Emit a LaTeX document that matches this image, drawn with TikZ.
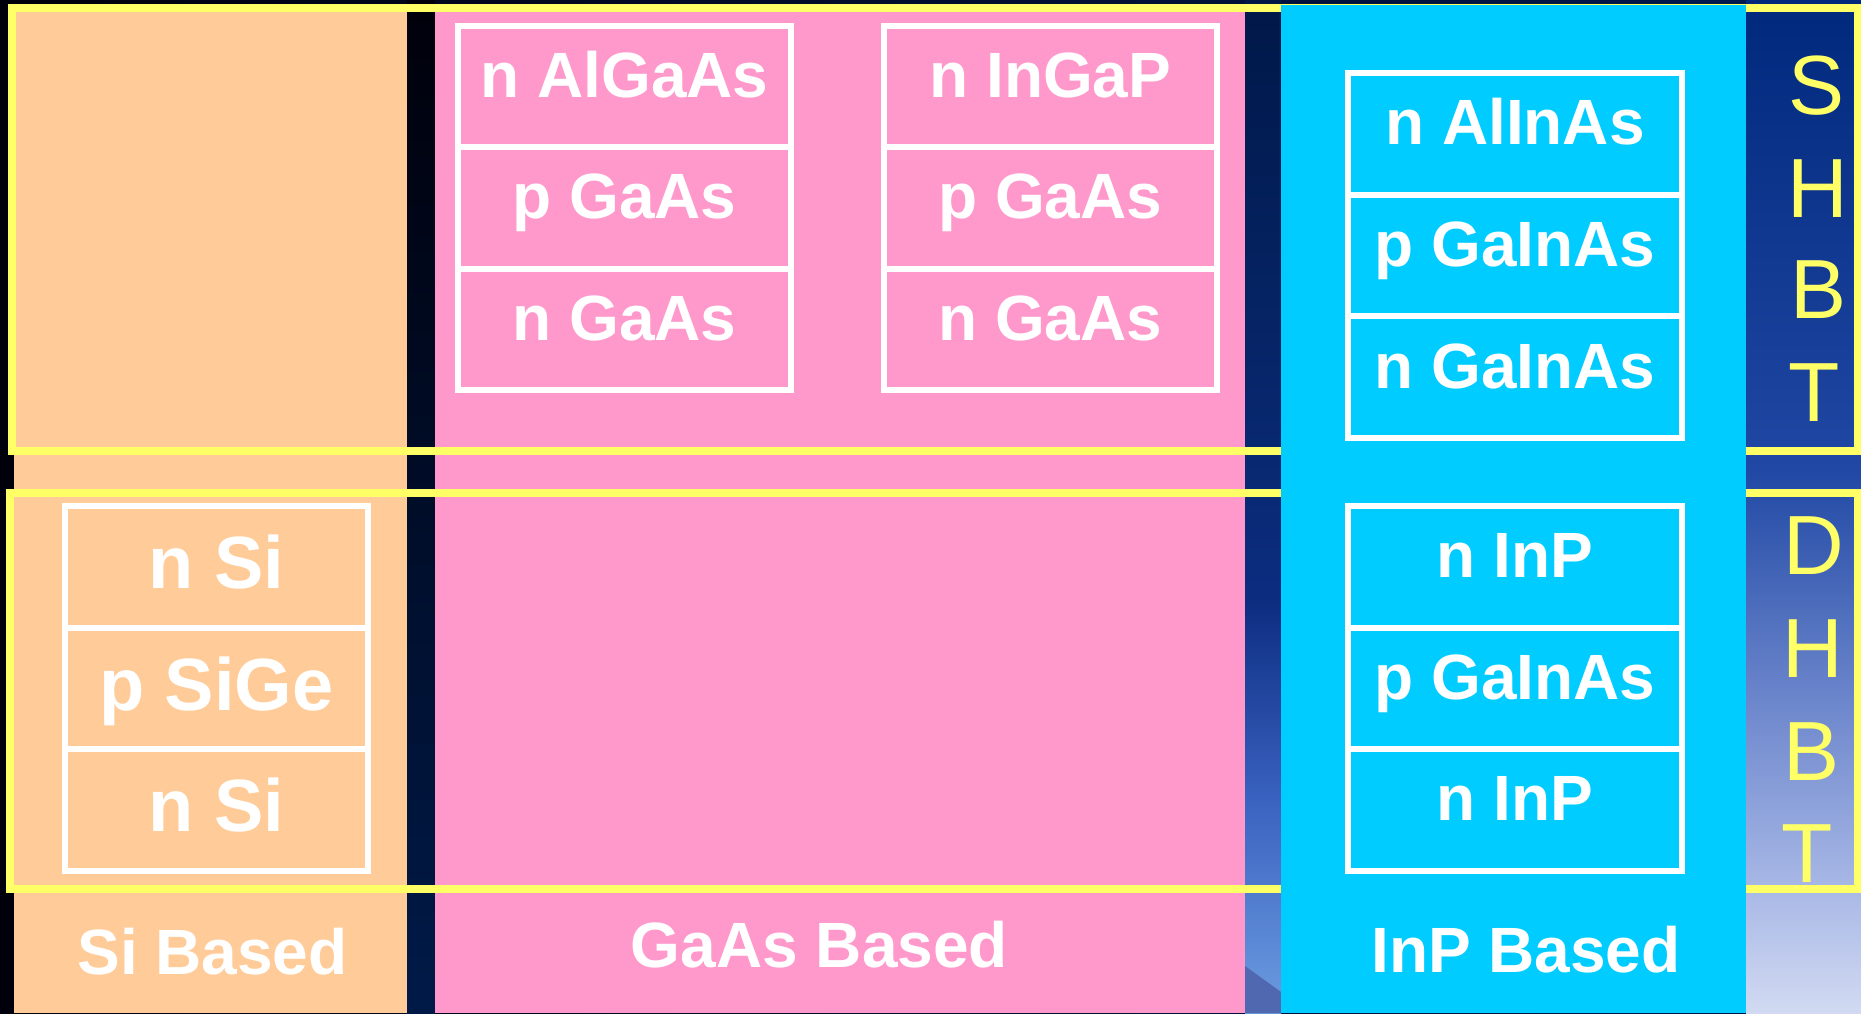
\documentclass[tikz,border=0pt]{standalone}
\usepackage{fontspec}
\setmainfont{Liberation Sans}
\definecolor{peachc}{HTML}{FFCC99}
\definecolor{pinkc}{HTML}{FF99CC}
\definecolor{cyanc}{HTML}{00CCFF}
\definecolor{yelc}{HTML}{FFFF66}
\definecolor{bgA}{HTML}{00000C}
\definecolor{bgB}{HTML}{001A50}
\definecolor{dkA}{HTML}{00000A}
\definecolor{dkB}{HTML}{001A48}
\definecolor{mA}{HTML}{001848}
\definecolor{mB}{HTML}{082870}
\definecolor{mC}{HTML}{0C2C80}
\definecolor{mD}{HTML}{3A62C0}
\definecolor{mE}{HTML}{6C9CE0}
\definecolor{mF}{HTML}{5068B0}
\definecolor{rA}{HTML}{00287C}
\definecolor{rB}{HTML}{2048A4}
\definecolor{rC}{HTML}{6C86CC}
\definecolor{rD}{HTML}{A8B8E6}
\definecolor{rE}{HTML}{D2DAF2}
\newcommand\lblfont{\fontsize{64}{64}\selectfont\bfseries}
\newcommand\sifont{\fontsize{74}{74}\selectfont\bfseries}
\newcommand\letfont{\fontsize{84}{84}\selectfont}
\begin{document}
\begin{tikzpicture}[x=1pt,y=-1pt,
  yrect/.style={draw=yelc, line width=8pt},
  cell/.style={draw=white, line width=6pt, inner sep=0pt, text=white,
    font=\lblfont, text height=22pt, text depth=0pt, anchor=center},
  gcell/.style={cell, minimum width=333pt, minimum height=121.4pt},
  icellA/.style={cell, minimum width=334pt, minimum height=121.67pt},
  icellB/.style={cell, minimum width=334pt, minimum height=121.5pt},
  scell/.style={cell, minimum width=302.5pt, minimum height=121.5pt,
    font=\sifont, text height=44pt},
  blabel/.style={anchor=base, inner sep=0pt, text=white, font=\lblfont},
  vlet/.style={anchor=base, inner sep=0pt, text=yelc, font=\letfont}]
\useasboundingbox (0,0) rectangle (1861,1013);
% background
\shade[left color=bgA, right color=bgB] (0,0) rectangle (1861,1013);
\shade[top color=dkA, bottom color=dkB] (407,0) rectangle (435,1013);
\shade[top color=mA, bottom color=mB] (1245,0) rectangle (1281,450);
\shade[top color=mB, bottom color=mC] (1245,449) rectangle (1281,600);
\shade[top color=mC, bottom color=mD] (1245,599) rectangle (1281,800);
\shade[top color=mD, bottom color=mE] (1245,799) rectangle (1281,1013);
\fill[mF] (1245,966) -- (1281,992) -- (1281,1013) -- (1245,1013) -- cycle;
\shade[top color=rA, bottom color=rB] (1746,0) rectangle (1861,470);
\shade[top color=rB, bottom color=rC] (1746,469) rectangle (1861,700);
\shade[top color=rC, bottom color=rD] (1746,699) rectangle (1861,889);
\shade[top color=rD, bottom color=rE] (1746,888) rectangle (1861,1013);
% columns
\fill[peachc] (14,4) rectangle (407,1013);
\fill[pinkc] (435,4) rectangle (1245,1013);
% yellow frames
\draw[yrect] (11.5,8) rectangle (1858,450.5);
\draw[yrect] (10,493) rectangle (1858,889);
% InP column
\fill[cyanc] (1281,4.5) rectangle (1746,1013);
% GaAs stacks
\node[gcell] (ga1) at (624.5,86.4) {n AlGaAs};
\node[gcell] (ga2) at (624.5,207.8) {p GaAs};
\node[gcell] (ga3) at (624.5,329.2) {n GaAs};
\node[gcell] (gb1) at (1050.3,86.4) {n InGaP};
\node[gcell] (gb2) at (1050.3,207.8) {p GaAs};
\node[gcell] (gb3) at (1050.3,329.2) {n GaAs};
% InP stacks
\node[icellA] (ia1) at (1515,133.8) {n AlInAs};
\node[icellA] (ia2) at (1515,255.5) {p GaInAs};
\node[icellA] (ia3) at (1515,377.2) {n GaInAs};
\node[icellB] (ib1) at (1515,566.75) {n InP};
\node[icellB] (ib2) at (1515,688.25) {p GaInAs};
\node[icellB] (ib3) at (1515,809.75) {n InP};
% Si stack
\node[scell] (s1) at (216.25,566.75) {n Si};
\node[scell] (s2) at (216.25,688.25) {p SiGe};
\node[scell] (s3) at (216.25,809.75) {n Si};
% bottom labels
\node[blabel] (lsi) at (212.5,974) {Si Based};
\node[blabel] (lga) at (819.5,967.3) {GaAs Based};
\node[blabel] (lin) at (1526,972) {InP Based};
% side letters
\node[vlet] (sh1) at (1816,114) {S};
\node[vlet] (sh2) at (1818,217) {H};
\node[vlet] (sh3) at (1818,318) {B};
\node[vlet] (sh4) at (1814,421) {T};
\node[vlet] (dh1) at (1814,574.5) {D};
\node[vlet] (dh2) at (1813,677) {H};
\node[vlet] (dh3) at (1811,780) {B};
\node[vlet] (dh4) at (1807,882) {T};
\end{tikzpicture}
\end{document}
